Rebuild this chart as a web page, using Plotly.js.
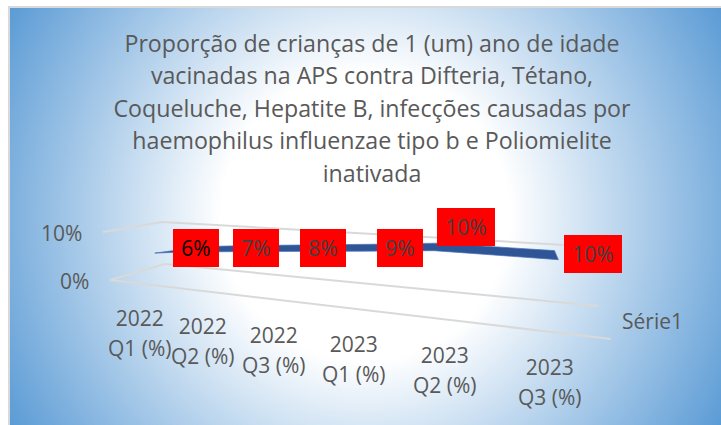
<!DOCTYPE html>
<html>
<head>
<meta charset="utf-8">
<script src="https://cdn.plot.ly/plotly-3.0.1.min.js"></script>
<style>
html,body{margin:0;padding:0;background:#fff;width:721px;height:425px;overflow:hidden}
#bg{position:absolute;left:8px;top:6px;width:713px;height:419px;border-left:2px solid #d9d9d9;border-top:2px solid #d9d9d9;box-sizing:border-box;
background:radial-gradient(circle farthest-corner at 50% 50%,#ffffff 35%,#5b9bd5 100%)}
#chart{position:absolute;left:0;top:0;width:721px;height:425px}
</style>
</head>
<body>
<div id="bg"></div>
<div id="chart"></div>
<script>
// ---- data ----
const categories = ["2022<br>Q1 (%)","2022<br>Q2 (%)","2022<br>Q3 (%)","2023<br>Q1 (%)","2023<br>Q2 (%)","2023<br>Q3 (%)"];
const values = [6,7,8,9,10,10];
const axisValues = [0,10];
const seriesName = "Série1";
const titleText = "Proporção de crianças de 1 (um) ano de idade<br>vacinadas na APS contra Difteria, Tétano,<br>Coqueluche, Hepatite B, infecções causadas por<br>haemophilus influenzae tipo b e Poliomielite<br>inativada";

// ---- 3D box projection (screen corners of the chart box) ----
const FLOOR = {bl:[165,264], br:[598,306], fl:[110,280], fr:[611,339]};
const CEIL  = {bl:[162,222], br:[565,245], fl:[103,232], fr:[578,270]};
const VMAX = 10;
function lerp(a,b,t){return a+(b-a)*t;}
function planePt(q,s,d,k){return lerp(lerp(q.bl[k],q.br[k],s),lerp(q.fl[k],q.fr[k],s),d);}
function project(s,d,v){
  const t=v/VMAX;
  return [lerp(planePt(FLOOR,s,d,0),planePt(CEIL,s,d,0),t), lerp(planePt(FLOOR,s,d,1),planePt(CEIL,s,d,1),t)];
}
const catS = [0.13,0.24,0.38,0.53,0.69,0.967];
const ribbonTop = 0.26, ribbonBottom = 0.63, ribbonMid = 0.85, tipS = 0.085;

// ribbon polygon from the values
const topEdge = values.map((v,i)=>project(catS[i],ribbonTop,v));
const botEdge = values.map((v,i)=>project(catS[i],ribbonBottom,v)).reverse();
const tip = project(tipS,ribbonMid,values[0]);
const poly = [tip,...topEdge,...botEdge,tip];

// grid lines
function seg(pts,name){return {type:"scatter",mode:"lines",x:pts.map(p=>p[0]),y:pts.map(p=>p[1]),
  line:{color:"#d9d9d9",width:2},hoverinfo:"skip",showlegend:false,name};}
const traces = [
  seg([project(0,1,axisValues[1]),project(0,0,axisValues[1]),project(1,0,axisValues[1])],"10%"),
  seg([project(1,1,axisValues[0]),project(0,1,axisValues[0]),project(0,0,axisValues[0]),project(1,0,axisValues[0])],"0%"),
  {type:"scatter",mode:"lines",x:poly.map(p=>p[0]),y:poly.map(p=>p[1]),fill:"toself",fillcolor:"#2f5597",
   line:{color:"#4a72b8",width:0.7},name:seriesName,showlegend:false,hoverinfo:"skip"}
];

// label placement
const catLabelX = [140,203,274,354,445,550];
const catLabelY = [314,322,331,340,351,363];
const labelBoxX = [196,256,323,400,466,593];
const labelBoxY = [248,248,248,248,227,254];
const labelBoxW = [46,46,46,46,58,58];
const labelColor = ["#000000","#404040","#404040","#404040","#404040","#404040"];
const FONT = "'Open Sans', sans-serif";
const GREY = "#595959";

const annotations = [];
values.forEach((v,i)=>annotations.push({xref:"x",yref:"y",x:labelBoxX[i],y:labelBoxY[i],text:v+"%",showarrow:false,
  bgcolor:"#ff0000",width:labelBoxW[i],height:38,borderpad:0,borderwidth:0,align:"center",valign:"middle",
  xanchor:"center",yanchor:"middle",font:{family:FONT,size:21,color:labelColor[i]}}));
categories.forEach((c,i)=>annotations.push({xref:"x",yref:"y",x:catLabelX[i],y:catLabelY[i],text:c,showarrow:false,
  xanchor:"center",yanchor:"top",yshift:12,font:{family:FONT,size:21,color:GREY}}));
annotations.push({xref:"x",yref:"y",x:61,y:233,text:axisValues[1]+"%",showarrow:false,font:{family:FONT,size:21,color:GREY}});
annotations.push({xref:"x",yref:"y",x:74,y:281,text:axisValues[0]+"%",showarrow:false,font:{family:FONT,size:21,color:GREY}});
annotations.push({xref:"x",yref:"y",x:652,y:321,text:seriesName,showarrow:false,font:{family:FONT,size:21,color:GREY}});

const layout = {
  width:721,height:425,margin:{l:0,r:0,t:0,b:0},
  paper_bgcolor:"rgba(0,0,0,0)",plot_bgcolor:"rgba(0,0,0,0)",
  showlegend:false,hovermode:false,
  title:{text:titleText,x:372/721,xanchor:"center",xref:"paper",y:1-52/425,yanchor:"top",yref:"paper",font:{family:FONT,size:23.2,color:GREY}},
  xaxis:{range:[0,721],visible:false,fixedrange:true},
  yaxis:{range:[425,0],visible:false,fixedrange:true},
  annotations
};
Plotly.newPlot("chart",traces,layout,{displayModeBar:false,staticPlot:true}).then(()=>{
  // wider line spacing for multi-line texts, as in the reference
  const spacing = (root,px)=>{root.querySelectorAll("tspan.line").forEach((t,i)=>t.setAttribute("dy",(i*px)+"px"));};
  spacing(document.querySelector(".gtitle"),32.4);
  document.querySelectorAll(".annotation-text").forEach(n=>{ if(n.querySelectorAll("tspan.line").length>1) spacing(n,30); });
});
</script>
</body>
</html>
